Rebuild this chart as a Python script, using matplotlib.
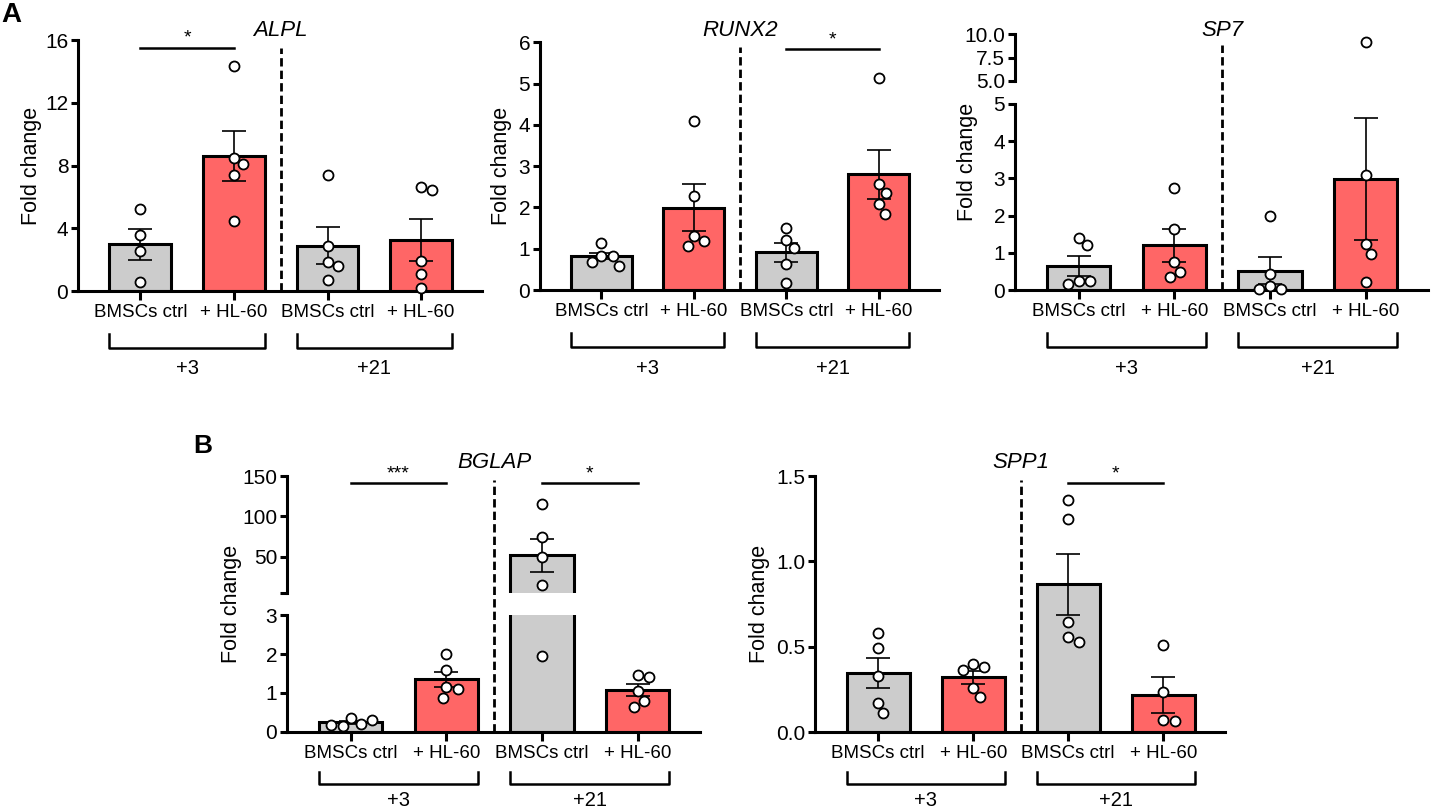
import numpy as np
import matplotlib.pyplot as plt
import matplotlib.transforms as mtransforms

plt.rcParams['font.family'] = ['Liberation Sans', 'DejaVu Sans']

W, H = 1433, 811
GREY = '#cccccc'
RED = '#ff6666'

groups = ['BMSCs ctrl', '+ HL-60', 'BMSCs ctrl', '+ HL-60']
days = ['+3', '+21']
colors = [GREY, RED, GREY, RED]

# ---- ALPL
alpl_mean = [2.97, 8.60, 2.89, 3.25]
alpl_sem = [0.98, 1.60, 1.19, 1.35]
alpl_pts = [[5.22, 3.60, 2.57, 0.57],
            [14.35, 8.50, 8.07, 7.41, 4.48],
            [7.41, 2.89, 1.83, 1.61, 0.68],
            [6.60, 6.43, 1.91, 1.10, 0.21]]

# ---- RUNX2
runx2_mean = [0.82, 1.99, 0.91, 2.80]
runx2_sem = [0.075, 0.57, 0.235, 0.60]
runx2_pts = [[1.15, 0.82, 0.82, 0.68, 0.59],
             [4.10, 2.28, 1.31, 1.19, 1.07],
             [1.49, 1.21, 1.01, 0.62, 0.18],
             [5.13, 2.56, 2.35, 2.08, 1.85]]

# ---- SP7
sp7_mean = [0.66, 1.21, 0.53, 2.98]
sp7_sem = [0.27, 0.445, 0.37, 1.64]
sp7_pts = [[1.41, 1.21, 0.25, 0.25, 0.17],
           [2.75, 1.65, 0.77, 0.50, 0.36],
           [1.99, 0.44, 0.12, 0.04, 0.04],
           [9.15, 3.10, 1.25, 0.97, 0.21]]

# ---- BGLAP
bglap_mean = [0.24, 1.35, 51.7, 1.07]
bglap_sem = [0.04, 0.19, 20.8, 0.16]
bglap_pts = [[0.35, 0.20, 0.14, 0.18, 0.29],
             [2.00, 1.58, 1.15, 1.09, 0.87],
             [115.7, 74.8, 50.0, 15.0, 1.94],
             [1.46, 1.41, 1.05, 0.80, 0.64]]

# ---- SPP1
spp1_mean = [0.344, 0.32, 0.865, 0.217]
spp1_sem = [0.087, 0.036, 0.18, 0.105]
spp1_pts = [[0.58, 0.49, 0.33, 0.17, 0.11],
            [0.397, 0.379, 0.363, 0.26, 0.205],
            [1.357, 1.248, 0.643, 0.555, 0.527],
            [0.508, 0.234, 0.07, 0.066]]

fig = plt.figure(figsize=(W / 100, H / 100), dpi=100)


def fy(py):
    return 1 - py / H


def swarm(ax, xc, vals, diam=11.5):
    # simple beeswarm in pixel space so circles do not overlap
    ppu = ax.transData.transform((xc + 1, 0))[0] - ax.transData.transform((xc, 0))[0]
    placed = []
    xs = []
    for v in vals:
        y = ax.transData.transform((xc, v))[1]
        cands = [0.0]
        for px, py in placed:
            dy = abs(y - py)
            if dy < diam:
                dx = np.sqrt(diam ** 2 - dy ** 2)
                cands += [px + dx, px - dx]
        cands.sort(key=abs)
        for c in cands:
            if all((c - px) ** 2 + (y - py) ** 2 >= diam ** 2 - 1e-6 for px, py in placed):
                break
        placed.append((c, y))
        xs.append(xc + c / ppu)
    return xs


def panel(left, right, segs, means, sems, pts, title, title_py, dash_top, sigs, ylab_dx,
          brk=(52, 40, 69)):
    x = np.arange(4)
    xlim = (-0.665, 3.65)
    axes = []
    for i, (bottom, top, ylim, ticks, labels) in enumerate(segs):
        ax = fig.add_axes([left / W, fy(bottom), (right - left) / W, (bottom - top) / H])
        ax.patch.set_visible(False)
        ax.set_xlim(xlim)
        ax.set_ylim(ylim)
        ax.set_yticks(ticks)
        ax.set_yticklabels(labels)
        for s in ['top', 'right']:
            ax.spines[s].set_visible(False)
        for s in ['left', 'bottom']:
            ax.spines[s].set_linewidth(2.2)
        ax.tick_params(axis='y', direction='out', length=5, width=2.2, labelsize=15, pad=2)
        ax.tick_params(axis='x', direction='out', length=6.5, width=2.2, labelsize=13.5, pad=3)
        if i == 0:
            ax.set_xticks(x)
            ax.set_xticklabels(groups)
        else:
            ax.spines['bottom'].set_visible(False)
            ax.set_xticks([])
        ax.bar(x, means, width=0.66, color=colors, edgecolor='k', linewidth=2.2, zorder=2)
        ax.errorbar(x, means, yerr=sems, fmt='none', ecolor='k', elinewidth=1.2,
                    capsize=8.5, capthick=1.2, zorder=3)
        for j in range(4):
            vals = [v for v in pts[j] if ylim[0] <= v <= ylim[1]]
            if vals:
                ax.plot(swarm(ax, x[j], vals), vals, 'o', mfc='white', mec='k', ms=7.2,
                        mew=1.3, zorder=4, clip_on=False)
        axes.append(ax)

    low, top_ax = axes[0], axes[-1]
    blend = mtransforms.blended_transform_factory(low.transData, fig.transFigure)
    axis_py = segs[0][0]

    # dashed separator between days
    low.plot([1.5, 1.5], [fy(axis_py), fy(dash_top)], transform=blend, color='k', lw=2,
             ls=(0, (3, 1.5)), clip_on=False, zorder=1)

    # gene title
    low.text(1.5, fy(title_py), title, transform=blend, ha='center', va='center',
             fontsize=16, style='italic')

    # significance bars
    for x1, x2, yv, star in sigs:
        top_ax.plot([x1, x2], [yv, yv], color='k', lw=1.8, clip_on=False)
        top_ax.annotate(star, ((x1 + x2) / 2, yv), xytext=(0, 7), textcoords='offset points',
                        ha='center', va='center', fontsize=14)

    # day brackets
    for k, d in enumerate(days):
        xa, xb = 2 * k - 0.33, 2 * k + 1.33
        yb, yt = fy(axis_py + brk[0]), fy(axis_py + brk[1])
        low.plot([xa, xa, xb, xb], [yt, yb, yb, yt], transform=blend, color='k', lw=1.8,
                 clip_on=False)
        low.text(2 * k + 0.5, fy(axis_py + brk[2]), d, transform=blend, ha='center',
                 va='center', fontsize=14.5)

    # y label centred on the whole axis span
    fig.text((left - ylab_dx) / W, fy((segs[0][0] + segs[-1][1]) / 2), 'Fold change',
             rotation=90, ha='center', va='center', fontsize=15.5)


row_a = (57, 43, 78)

panel(78, 482, [(291, 40, (0, 16), [0, 4, 8, 12, 16], ['0', '4', '8', '12', '16'])],
      alpl_mean, alpl_sem, alpl_pts, 'ALPL', 31, 48, [(0, 1, 15.5, '*')], 46, row_a)

panel(540, 939, [(290, 42.3, (0, 6), range(7), [str(i) for i in range(7)])],
      runx2_mean, runx2_sem, runx2_pts, 'RUNX2', 31, 47, [(2, 3, 5.83, '*')], 38, row_a)

panel(1015, 1428, [(290.3, 103.7, (0, 5), range(6), [str(i) for i in range(6)]),
                   (81, 34, (5, 10), [5, 7.5, 10], ['5.0', '7.5', '10.0'])],
      sp7_mean, sp7_sem, sp7_pts, 'SP7', 31, 45, [], 48, row_a)

panel(287, 700, [(731.7, 615.3, (0, 3), [0, 1, 2, 3], ['0', '1', '2', '3']),
                 (592.7, 476, (5.4, 150), [5.4, 50, 100, 150], ['', '50', '100', '150'])],
      bglap_mean, bglap_sem, bglap_pts, 'BGLAP', 463, 480,
      [(0, 1, 141, '***'), (2, 3, 141, '*')], 55)

panel(815, 1225, [(732, 476, (0, 1.5), [0, 0.5, 1.0, 1.5], ['0.0', '0.5', '1.0', '1.5'])],
      spp1_mean, spp1_sem, spp1_pts, 'SPP1', 463, 480, [(2, 3, 1.457, '*')], 55)

fig.text(11 / W, fy(15), 'A', fontsize=20, fontweight='bold', ha='center', va='center')
fig.text(203 / W, fy(446), 'B', fontsize=19, fontweight='bold', ha='center', va='center')

fig.savefig('out.png', dpi=100)
